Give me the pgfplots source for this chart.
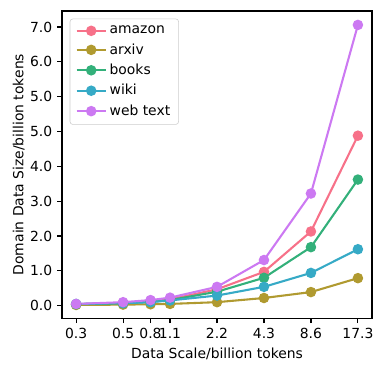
\documentclass[border=0pt]{standalone}
\usepackage{pgfplots}
\pgfplotsset{compat=1.18}
\usepackage{fontspec}
\setmainfont{DejaVu Sans}
\usetikzlibrary{calc}

\definecolor{cAmazon}{HTML}{F77189}
\definecolor{cArxiv}{HTML}{B09A30}
\definecolor{cBooks}{HTML}{33B07A}
\definecolor{cWiki}{HTML}{36AAC6}
\definecolor{cWeb}{HTML}{CC79F2}

\begin{document}
\begin{tikzpicture}
\begin{axis}[
    width=223pt, height=221pt,
    scale only axis,
    xmode=log, log basis x=2,
    xmin=0.2193, xmax=21.27,
    ymin=-0.36, ymax=8.46,
    xtick={0.27,0.54,0.81,1.08,2.16,4.32,8.64,17.28},
    xticklabels={0.3,0.5,0.8,1.1,2.2,4.3,8.6,17.3},
    ytick={0,1,2,3,4,5,6,7,8},
    yticklabels={0.0,1.0,2.0,3.0,4.0,5.0,5.0,6.0,7.0},
    minor tick num=0,
    log ticks with fixed point,
    tick align=outside,
    major tick length=3.5pt,
    xtick pos=bottom, ytick pos=left,
    tick style={black, line width=0.8pt},
    axis line style={line width=0.8pt},
    ticklabel style={font=\fontsize{10pt}{12pt}\selectfont},
    /pgf/number format/assume math mode=true,
    xlabel={Data Scale/billion tokens},
    ylabel={Domain Data Size/billion tokens},
    label style={font=\fontsize{10pt}{12pt}\selectfont},
    xlabel style={yshift=0pt},
    ylabel style={yshift=-3pt},
    every axis plot/.append style={line width=1.5pt, mark=*, mark size=3pt},
    legend style={at={(0.025,0.975)}, anchor=north west, draw=black!20,
        rounded corners=2pt, font=\fontsize{10pt}{12pt}\selectfont,
        row sep=1.6pt, inner xsep=4pt, inner ysep=3pt},
    legend cell align=left,
    legend image code/.code={
        \draw[#1, mark repeat=2, mark phase=2] plot coordinates {(0pt,0pt) (10.5pt,0pt) (21pt,0pt)};
    },
]
\addplot[color=cAmazon] coordinates {(0.27,0.04) (0.54,0.08) (0.81,0.12) (1.08,0.18) (2.16,0.47) (4.32,0.97) (8.64,2.13) (17.28,4.88)};
\addplot[color=cArxiv] coordinates {(0.27,0.02) (0.54,0.03) (0.81,0.04) (1.08,0.05) (2.16,0.10) (4.32,0.22) (8.64,0.39) (17.28,0.79)};
\addplot[color=cBooks] coordinates {(0.27,0.04) (0.54,0.07) (0.81,0.11) (1.08,0.16) (2.16,0.40) (4.32,0.80) (8.64,1.68) (17.28,3.62)};
\addplot[color=cWiki] coordinates {(0.27,0.05) (0.54,0.07) (0.81,0.10) (1.08,0.15) (2.16,0.29) (4.32,0.54) (8.64,0.94) (17.28,1.62)};
\addplot[color=cWeb] coordinates {(0.27,0.05) (0.54,0.10) (0.81,0.16) (1.08,0.23) (2.16,0.54) (4.32,1.31) (8.64,3.22) (17.28,8.06)};
\legend{amazon, arxiv, books, wiki, web text}
\end{axis}
\path ($(current axis.south west)+(-44.6pt,-38.2pt)$) rectangle ($(current axis.north east)+(7.2pt,7.9pt)$);
\end{tikzpicture}
\end{document}
